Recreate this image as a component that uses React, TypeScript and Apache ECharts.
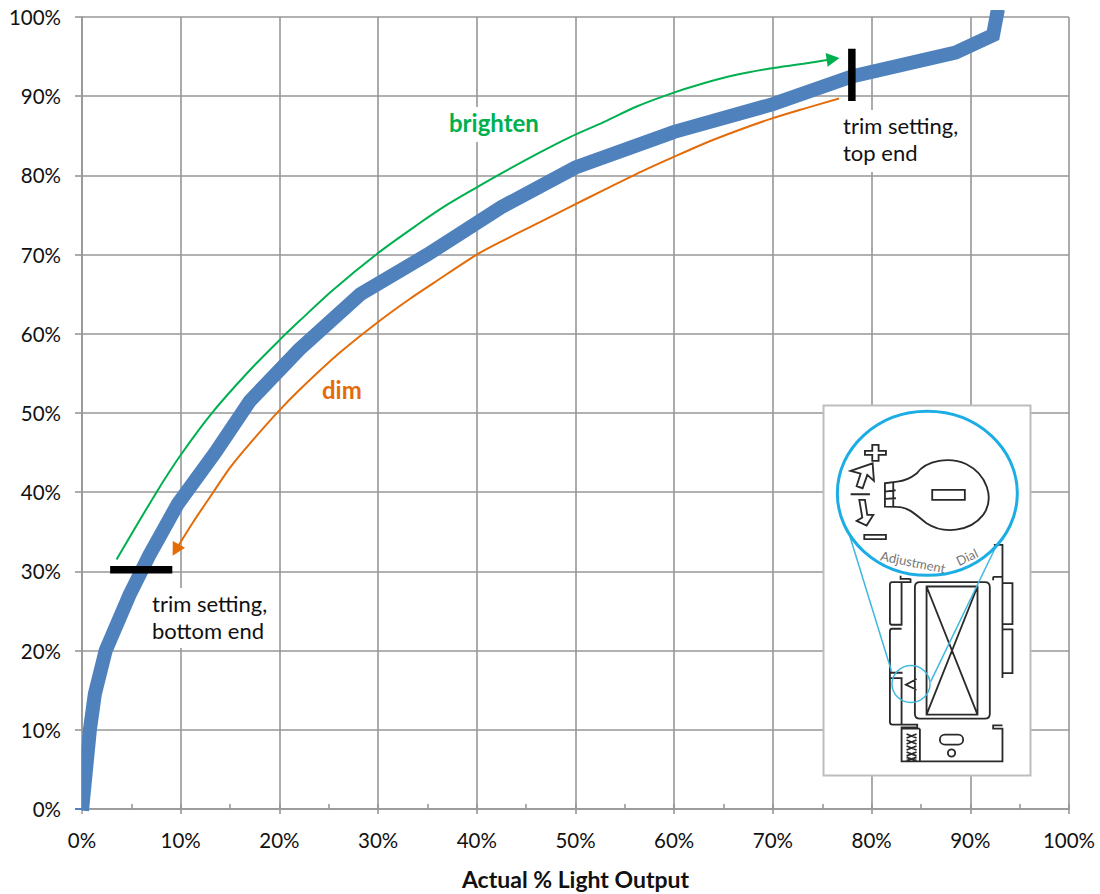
import React, { useEffect, useRef } from "react";
import * as echarts from "echarts";

const FONT = "Lato";
const lightCurve: [number, number][] = [
  [0, -0.2], [0.8, 10], [1.3, 14.5], [2.4, 20], [4.8, 27], [6.8, 32], [9.7, 38.5], [13.5, 45],
  [17, 51.5], [22, 58], [28.2, 65], [35, 70], [42.5, 76], [50, 81], [60, 85.5], [70, 89],
  [78, 92.5], [88.5, 95.5], [92.3, 97.7], [92.8, 101],
];
const brighten: [number, number][] = [
  [3.5, 31.5], [7.6, 40.1], [10, 44.7], [13.3, 50.2], [17, 55.4], [20, 59.2], [22.1, 61.7], [25.4, 65.5],
  [30, 70.2], [33.9, 73.7], [37, 76.3], [40, 78.5], [42.4, 80.2], [46.4, 82.9], [49.4, 84.8], [52.8, 86.7],
  [56.2, 88.7], [59.6, 90.3], [62.9, 91.6], [66.3, 92.7], [69.7, 93.5], [73.1, 94.1], [76.1, 94.7],
];
const dim: [number, number][] = [
  [76.7, 89.7], [73.1, 88.4], [69.7, 87.1], [66.3, 85.6], [63, 84], [59.9, 82.3], [56.2, 80.2], [52.8, 78.1],
  [49.4, 76], [46.4, 74.1], [42.4, 71.6], [40, 70], [35.6, 66.4], [33.2, 64.4], [30, 61.5], [26.1, 57.6],
  [22.1, 53], [19.9, 50.2], [16.7, 45.7], [15, 43.1], [13.3, 40], [11.3, 36.3], [9.5, 32.7],
];
const trimTop: [number, number][] = [[78, 89.4], [78, 96]];
const trimBottom: [number, number][] = [[2.85, 30.2], [9.15, 30.2]];

const outline =
  "M302 552H272V543 M302 552V562H246Q240 562 240 570V684Q240 690 246 690H275V562 " +
  "M275 702H246Q240 702 240 710V834H278 M240 834V850H278 M240 850V982Q240 990 248 990H322V998H275V1100H578V1002H550V992H578 M275 850V990 " +
  "M330 1002V1098 M330 1002H275 " +
  "M550 546H578V450H552 M550 546V556 M578 546V850 M578 565H608V688H578 M578 704H608V835H578 " +
  "M330 562H525Q540 562 540 577V957Q540 972 525 972H330Q315 972 315 957V577Q315 562 330 562Z " +
  "M350 575H503V960H350Z M350 575L503 960 M503 575L350 960 " +
  "M405 1020H445A15 15 0 0 1 445 1050H405A15 15 0 0 1 405 1020Z " +
  "M436 1075A11 11 0 1 1 414 1075A11 11 0 1 1 436 1075Z " +
  "M290 1018L320 1030M320 1018L290 1030M290 1036L320 1048M320 1036L290 1048M290 1054L320 1066M320 1054L290 1066M290 1072L320 1084M320 1072L290 1084M290 1088L320 1098M320 1088L290 1098 " +
  "M320 853L288 870L320 885 " +
  "M225 265L262 260Q292 258 320 236C350 195 420 185 470 208C530 238 556 310 520 360C480 412 400 418 350 385C322 365 300 336 260 336L225 335Z " +
  "M225 265V335 M225 290L257 286 M225 312L258 310 M250 262V335 " +
  "M367 285H465V315H367Z " +
  "M122 298H180 " +
  "M163 420H228V433H163Z " +
  "M187 150H206V168H228V180H206V198H187V180H165V168H187Z " +
  "M122 228L188 205L192 258L172 240L158 280L140 274L152 236Z " +
  "M148 315H165L172 360L190 360L170 392L140 378L157 368Z";

echarts.graphic.registerShape("deviceOutline", echarts.graphic.extendPath(outline, {}));

export default function App() {
  const ref = useRef<HTMLDivElement>(null);
  useEffect(() => {
    document.body.style.margin = "0";
    const chart = echarts.init(ref.current!, null, { renderer: "svg" });
    const pct = (v: number) => `${v}%`;
    const gridColor = "#979797";
    const zx = (v: number) => 810 + v / 3;
    const zy = (v: number) => 395 + v / 3;
    const lastSymbol = (pts: [number, number][], rotate: number, color: string) =>
      pts.map((p, i) =>
        i === pts.length - 1
          ? { value: p, symbol: "triangle", symbolSize: [14, 13], symbolRotate: rotate, itemStyle: { color } }
          : { value: p, symbol: "none" }
      );
    chart.setOption({
      animation: false,
      backgroundColor: "#fff",
      textStyle: { fontFamily: FONT },
      grid: { left: 82, top: 17, width: 987, height: 792, containLabel: false, outerBoundsMode: "none" },
      xAxis: [
        {
          type: "value", min: 0, max: 100, interval: 10,
          axisLine: { show: true, onZero: false, lineStyle: { color: gridColor, width: 1.6 } },
          axisTick: { show: true, length: 5, lineStyle: { color: gridColor, width: 1.6 } },
          splitLine: { show: true, lineStyle: { color: gridColor, width: 1.6 } },
          axisLabel: { formatter: pct, color: "#111", fontSize: 20.5, fontFamily: FONT, margin: 20 },
          name: "Actual % Light Output", nameLocation: "middle", nameGap: 58,
          nameTextStyle: { fontFamily: FONT, fontWeight: "bold", fontSize: 23, color: "#111" },
        },
        {
          type: "value", min: 0, max: 100, interval: 5, position: "bottom",
          axisLine: { show: false },
          axisTick: { show: true, inside: true, length: 5, lineStyle: { color: gridColor, width: 1.6 } },
          splitLine: { show: false },
          axisLabel: { show: false },
        },
      ],
      yAxis: {
        type: "value", min: 0, max: 100, interval: 10,
        axisLine: { show: true, onZero: false, lineStyle: { color: gridColor, width: 1.6 } },
        axisTick: { show: true, length: 7, lineStyle: { color: gridColor, width: 1.6 } },
        splitLine: { show: true, lineStyle: { color: gridColor, width: 1.6 } },
        axisLabel: { formatter: pct, color: "#111", fontSize: 20.5, fontFamily: FONT, margin: 21 },
      },
      series: [
        {
          type: "line", name: "brighten", data: lastSymbol(brighten, -82, "#00B050"), smooth: 0.3,
          lineStyle: { color: "#00B050", width: 2 }, showSymbol: true, z: 3,
        },
        {
          type: "line", name: "dim", data: lastSymbol(dim, 151, "#E36C09"), smooth: 0.3,
          lineStyle: { color: "#E36C09", width: 2 }, showSymbol: true, z: 3,
        },
        {
          type: "line", name: "light", data: lightCurve, symbol: "none",
          lineStyle: { color: "#4F81BD", width: 14, join: "miter", cap: "butt" }, z: 4,
        },
        {
          type: "line", name: "trim top", data: trimTop, symbol: "none",
          lineStyle: { color: "#000", width: 7.5, cap: "butt" }, z: 5,
        },
        {
          type: "line", name: "trim bottom", data: trimBottom, symbol: "none",
          lineStyle: { color: "#000", width: 7.5, cap: "butt" }, z: 5,
        },
      ],
      graphic: [
        { type: "rect", z: 2, silent: true, shape: { x: 148, y: 588, width: 126, height: 60 }, style: { fill: "#fff" } },
        { type: "rect", z: 2, silent: true, shape: { x: 840, y: 110, width: 124, height: 62 }, style: { fill: "#fff" } },
        { type: "rect", z: 2, silent: true, shape: { x: 449, y: 107, width: 92, height: 35 }, style: { fill: "#fff" } },
        // masks: keep the thick curve from spilling left of the y axis, between its ticks
        { type: "rect", z: 6, silent: true, shape: { x: 72, y: 732, width: 9.2, height: 76 }, style: { fill: "#fff" } },
        { type: "rect", z: 6, silent: true, shape: { x: 72, y: 810, width: 9.2, height: 5 }, style: { fill: "#fff" } },
        { type: "text", z: 6, x: 152, y: 590, style: { text: "trim setting,\nbottom end", fill: "#111", font: `22px ${FONT}`, lineHeight: 27 } },
        { type: "text", z: 6, x: 843, y: 112, style: { text: "trim setting,\ntop end", fill: "#111", font: `22px ${FONT}`, lineHeight: 27 } },
        { type: "text", z: 6, x: 449, y: 110, style: { text: "brighten", fill: "#00B050", font: `bold 24px ${FONT}` } },
        { type: "text", z: 6, x: 322, y: 377, style: { text: "dim", fill: "#E36C09", font: `bold 24px ${FONT}` } },
        { type: "rect", z: 6, shape: { x: 823.5, y: 405.5, width: 207, height: 370 }, style: { fill: "#fff", stroke: "#BDBDBD", lineWidth: 2 } },
        {
          type: "deviceOutline", z: 7, x: 810, y: 395, scaleX: 1 / 3, scaleY: 1 / 3,
          style: { fill: "none", stroke: "#2A2A2A", lineWidth: 5.5 },
        },
        { type: "line", z: 7, shape: { x1: zx(120), y1: zy(425), x2: zx(245), y2: zy(830) }, style: { stroke: "#3FB8E0", lineWidth: 1.5 } },
        { type: "line", z: 7, shape: { x1: zx(560), y1: zy(450), x2: zx(362), y2: zy(860) }, style: { stroke: "#3FB8E0", lineWidth: 1.5 } },
        { type: "ellipse", z: 7, shape: { cx: zx(352), cy: zy(295), rx: 90, ry: 82 }, style: { fill: "none", stroke: "#1CADE4", lineWidth: 3 } },
        { type: "ellipse", z: 7, shape: { cx: zx(303), cy: zy(867), rx: 19, ry: 18.5 }, style: { fill: "none", stroke: "#3FB8E0", lineWidth: 1.5 } },
        { type: "text", z: 7, x: 882, y: 549, rotation: -0.2, originX: 0, originY: 0, style: { text: "Adjustment", fill: "#777", font: `13px ${FONT}` } },
        { type: "text", z: 7, x: 954, y: 556, rotation: 0.45, originX: 0, originY: 0, style: { text: "Dial", fill: "#777", font: `13px ${FONT}` } },
      ],
    });
    return () => chart.dispose();
  }, []);
  return <div ref={ref} style={{ position: "absolute", left: 0, top: 0, width: 1100, height: 894 }} />;
}
